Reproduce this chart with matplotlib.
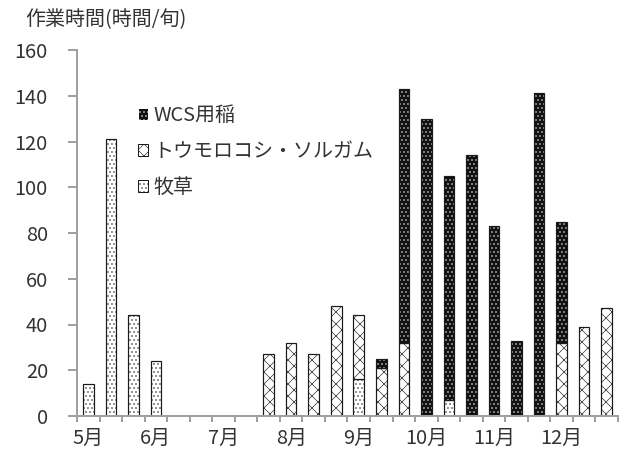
import matplotlib.pyplot as plt
import matplotlib.patches as mpatches
import numpy as np

plt.rcParams['font.family'] = ['Noto Sans CJK JP', 'DejaVu Sans']
plt.rcParams['hatch.linewidth'] = 0.6

# 旬 (dekads): 5月上旬 .. 12月下旬
months = ['5月', '6月', '7月', '8月', '9月', '10月', '11月', '12月']
bokusou = np.array([14, 121, 44, 24, 0, 0, 0, 0, 0, 0, 0, 0,
                    16, 0, 0, 0, 7, 0, 0, 0, 0, 0, 0, 0])
corn = np.array([0, 0, 0, 0, 0, 0, 0, 0, 27, 32, 27, 48,
                 28, 21, 32, 0, 0, 0, 0, 0, 0, 32, 39, 47])
wcs = np.array([0, 0, 0, 0, 0, 0, 0, 0, 0, 0, 0, 0,
                0, 4, 111, 130, 98, 114, 83, 33, 141, 53, 0, 0])
labels = ['WCS用稲', 'トウモロコシ・ソルガム', '牧草']

gray = '#a0a0a0'
txt = '#333333'
fs = 20

fig = plt.figure(figsize=(624 / 72, 460 / 72), dpi=72)
ax = fig.add_axes([77 / 624, 1 - 416 / 460, 541 / 624, 366 / 460])

x = np.arange(len(bokusou))
w = 0.47


def draw(vals, bottom, face, hcol, hatch):
    m = vals > 0
    ax.bar(x[m], vals[m], w, bottom=bottom[m], color=face,
           edgecolor=hcol, hatch=hatch, linewidth=0)
    ax.bar(x[m], vals[m], w, bottom=bottom[m], fill=False,
           edgecolor='#1a1a1a', linewidth=1.2)


zero = np.zeros(len(x))
draw(bokusou, zero, 'white', '#1a1a1a', '...')
draw(corn, bokusou, 'white', '#1a1a1a', 'xx')
draw(wcs, bokusou + corn, '#111111', 'white', '...')

ax.set_xlim(-0.5, 23.5)
ax.set_ylim(0, 160)
ax.set_yticks(np.arange(0, 161, 20))
ax.set_xticks(np.arange(0, 24, 3))
ax.set_xticklabels(months)
ax.set_xticks(np.arange(-0.5, 24, 1), minor=True)

for s in ['top', 'right']:
    ax.spines[s].set_visible(False)
for s in ['left', 'bottom']:
    ax.spines[s].set_color(gray)
    ax.spines[s].set_linewidth(2)

ax.tick_params(axis='y', direction='out', length=9, width=2, color=gray,
               labelsize=fs, labelcolor=txt, pad=20)
ax.tick_params(axis='x', which='major', length=0, labelsize=fs,
               labelcolor=txt, pad=12)
ax.tick_params(axis='x', which='minor', direction='out', length=6,
               width=2, color=gray)

handles = [
    mpatches.Patch(facecolor='#111111', edgecolor='white', hatch='...'),
    mpatches.Patch(facecolor='white', edgecolor='#1a1a1a', hatch='xx'),
    mpatches.Patch(facecolor='white', edgecolor='#1a1a1a', hatch='...'),
]
leg = ax.legend(handles, labels, loc='upper left',
                bbox_to_anchor=(0.112, 0.85), frameon=False, fontsize=fs,
                handlelength=0.5, handleheight=0.5, handletextpad=0.3,
                labelspacing=0.75, borderpad=0, borderaxespad=0)
for t in leg.get_texts():
    t.set_color(txt)

fig.text(25 / 624, 1 - 20 / 460, '作業時間(時間/旬)', fontsize=fs,
         color=txt, va='center', ha='left')

fig.savefig('out.png', dpi=72)
